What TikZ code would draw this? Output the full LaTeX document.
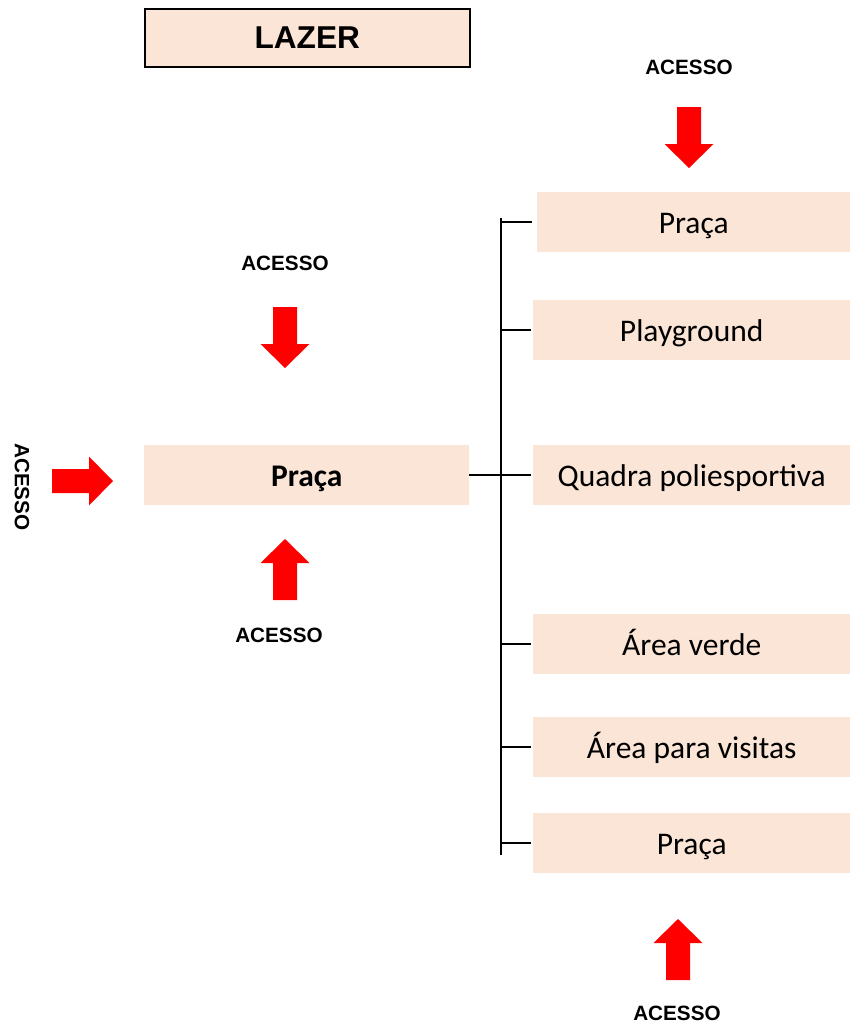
\documentclass[tikz,border=0pt]{standalone}
\usepackage{fontspec}
\setmainfont{Carlito}
\newfontfamily\arialfont{Liberation Sans}
\definecolor{peach}{HTML}{FBE5D6}
\definecolor{arrred}{HTML}{FF0000}
\tikzset{
  x=1pt, y=-1pt,
  box/.style={fill=peach, draw=none, inner sep=0pt, anchor=north west, text height=26pt, text depth=4pt, font=\fontsize{31.5}{36}\selectfont},
  titlebox/.style={fill=peach, draw=black, line width=1.5pt, inner sep=0pt, anchor=north west, font=\arialfont\bfseries\fontsize{31.6}{36}\selectfont},
  acc/.style={font=\arialfont\bfseries\fontsize{20.7}{24}\selectfont, inner sep=0pt},
  conn/.style={line width=2pt, black},
  blockarr/.pic={\fill[arrred] (0,-12) -- (37,-12) -- (37,-24.5) -- (61,0) -- (37,24.5) -- (37,12) -- (0,12) -- cycle;}
}
\begin{document}
\begin{tikzpicture}
\useasboundingbox (0,0) rectangle (850,1026);
% title
\node[titlebox, minimum width=325pt, minimum height=58pt] (title) at (144,8) {LAZER};
% main box
\node[box, minimum width=325pt, minimum height=60pt, font=\bfseries\fontsize{31.5}{36}\selectfont] (main) at (144,445) {Praça};
% right boxes
\node[box, minimum width=313pt, minimum height=60pt] (r1) at (537,192) {Praça};
\node[box, minimum width=317pt, minimum height=60pt] (r2) at (533,300) {Playground};
\node[box, minimum width=317pt, minimum height=60pt] (r3) at (533,445) {Quadra poliesportiva};
\node[box, minimum width=317pt, minimum height=60pt] (r4) at (533,614) {Área verde};
\node[box, minimum width=317pt, minimum height=60pt] (r5) at (533,717) {Área para visitas};
\node[box, minimum width=317pt, minimum height=60pt] (r6) at (533,813) {Praça};
% connectors
\coordinate (trunk) at (501,0);
\coordinate (ttop) at (501,218);
\coordinate (tbot) at (501,855);
\draw[conn] (ttop) -- (tbot);
\draw[conn] (main.east) -- (main.east -| trunk);
\draw[conn] (r1.west -| trunk) -- ([xshift=-5pt]r1.west);
\foreach \n in {r2,r3,r4,r5,r6} {\draw[conn] (\n.west -| trunk) -- ([xshift=-2pt]\n.west);}
% access labels
\node[acc] (a1) at (689,67) {ACESSO};
\node[acc] (a2) at (285,263) {ACESSO};
\node[acc] (a3) at (279,635) {ACESSO};
\node[acc] (a4) at (677,1013) {ACESSO};
\node[acc, rotate=-90] (a5) at (22,487) {ACESSO};
% arrows
\pic[rotate=-90] at (689,107) {blockarr};
\pic[rotate=-90] at (285,307) {blockarr};
\pic[rotate=90] at (285,600) {blockarr};
\pic[rotate=90] at (678,980) {blockarr};
\pic at (52,481) {blockarr};
\end{tikzpicture}
\end{document}
